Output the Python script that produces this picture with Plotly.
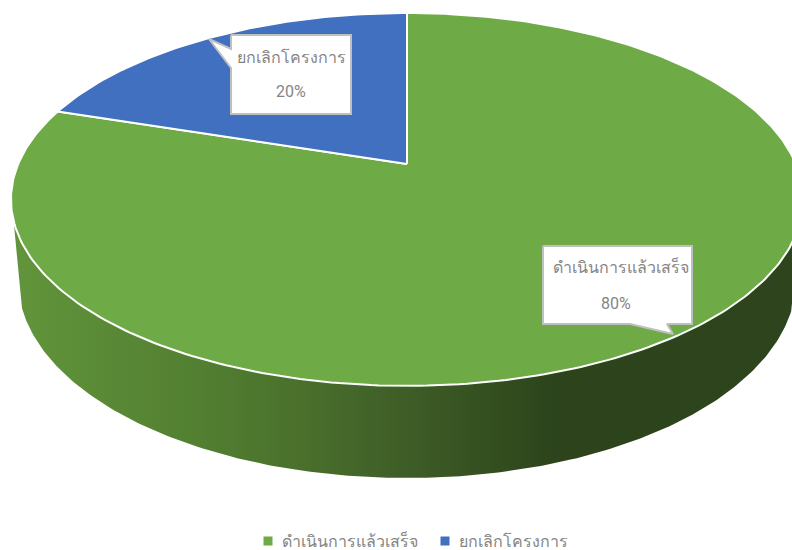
import numpy as np
import plotly.graph_objects as go

categories = ["ดำเนินการแล้วเสร็จ", "ยกเลิกโครงการ"]
values = [80, 20]
percent_labels = ["80%", "20%"]
colors = ["#6EAB47", "#4170C0"]

W, H = 792, 550
FONT = "Roboto, 'Noto Sans', sans-serif"
TEXT = "#858585"
# perspective disc projection (screen pixels on hidden axes)
CX, CY, AU, BV, K = 407.0, 164.0, 388.8, 179.7, 0.19


def project(theta):
    u, v = np.sin(theta), np.cos(theta)
    w = 1 + K * v
    return CX + AU * u / w, CY - BV * v / w


def wedge(a0, a1):
    n = max(3, int(abs(a1 - a0) * 60))
    x, y = project(np.linspace(a0, a1, n))
    return np.r_[CX, x, CX], np.r_[CY, y, CY]


fig = go.Figure()

# side wall
t = np.linspace(np.arccos(385 / 389), np.pi - np.arccos(385 / 389), 200)
lx = CX + 389 * np.cos(t)
ly = 280 + 198 * np.sin(t)
side_x = np.r_[CX + 393, lx, CX - 393, CX + 393]
side_y = np.r_[225, ly, 225, 225]
span = 786.0
stops = [(14, "#62953B"), (100, "#5A8A36"), (200, "#527F31"), (300, "#4A702C"), (400, "#3F5E27"),
         (500, "#334D1F"), (560, "#2C431B"), (800, "#2D441C")]
fig.add_trace(go.Scatter(
    x=side_x, y=side_y, mode="lines", line=dict(width=0), showlegend=False, hoverinfo="skip",
    fill="toself",
    fillgradient=dict(type="horizontal",
                      colorscale=[[(p - 14) / span, c] for p, c in stops]),
))

# top slices
total = sum(values)
edges = np.cumsum([0] + values) / total * 2 * np.pi
for i, name in enumerate(categories):
    x, y = wedge(edges[i], edges[i + 1])
    fig.add_trace(go.Scatter(
        x=x, y=y, mode="lines", fill="toself", fillcolor=colors[i],
        line=dict(color="white", width=2), showlegend=False, hoverinfo="skip",
    ))

# legend entries: swatch and label placed as in the reference
legend_swatch_x = [268, 445]
legend_y = 541
for i, name in enumerate(categories):
    fig.add_trace(go.Scatter(
        x=[legend_swatch_x[i]], y=[legend_y], mode="markers", name=name, showlegend=False,
        marker=dict(symbol="square", size=9, color=colors[i]), hoverinfo="skip",
    ))
    fig.add_annotation(x=legend_swatch_x[i] + 11.5, y=legend_y, text=name, showarrow=False,
                       xanchor="left", font=dict(size=16, color=TEXT, family=FONT))

# callouts
callouts = [
    dict(poly=[(543, 246), (692, 246), (692, 324), (667, 324), (673, 334), (630, 324), (543, 324)],
         cx=621, px=616, y0=267, y1=303, i=0),
    dict(poly=[(231, 35), (351, 35), (351, 114), (231, 114), (231, 68), (209, 39), (231, 49)],
         cx=291.5, px=291, y0=57, y1=91, i=1),
]
for c in callouts:
    px, py = zip(*(c["poly"] + [c["poly"][0]]))
    fig.add_trace(go.Scatter(
        x=px, y=py, mode="lines", fill="toself", fillcolor="white",
        line=dict(color="#BFBFBF", width=2), showlegend=False, hoverinfo="skip",
    ))
    fig.add_annotation(x=c["cx"], y=c["y0"], text=categories[c["i"]], showarrow=False,
                       font=dict(size=16, color=TEXT, family=FONT))
    fig.add_annotation(x=c["px"], y=c["y1"], text=percent_labels[c["i"]], showarrow=False,
                       font=dict(size=16, color=TEXT, family=FONT))

fig.update_layout(
    width=W, height=H, margin=dict(l=0, r=0, t=0, b=0),
    paper_bgcolor="white", plot_bgcolor="white",
    xaxis=dict(range=[0, W], visible=False, fixedrange=True),
    yaxis=dict(range=[H, 0], visible=False, fixedrange=True),
    font=dict(family=FONT, color=TEXT, size=16),
    showlegend=False,
)
fig.write_html("out.html", config=dict(displayModeBar=False),
               post_script="document.body.style.margin='0';")
